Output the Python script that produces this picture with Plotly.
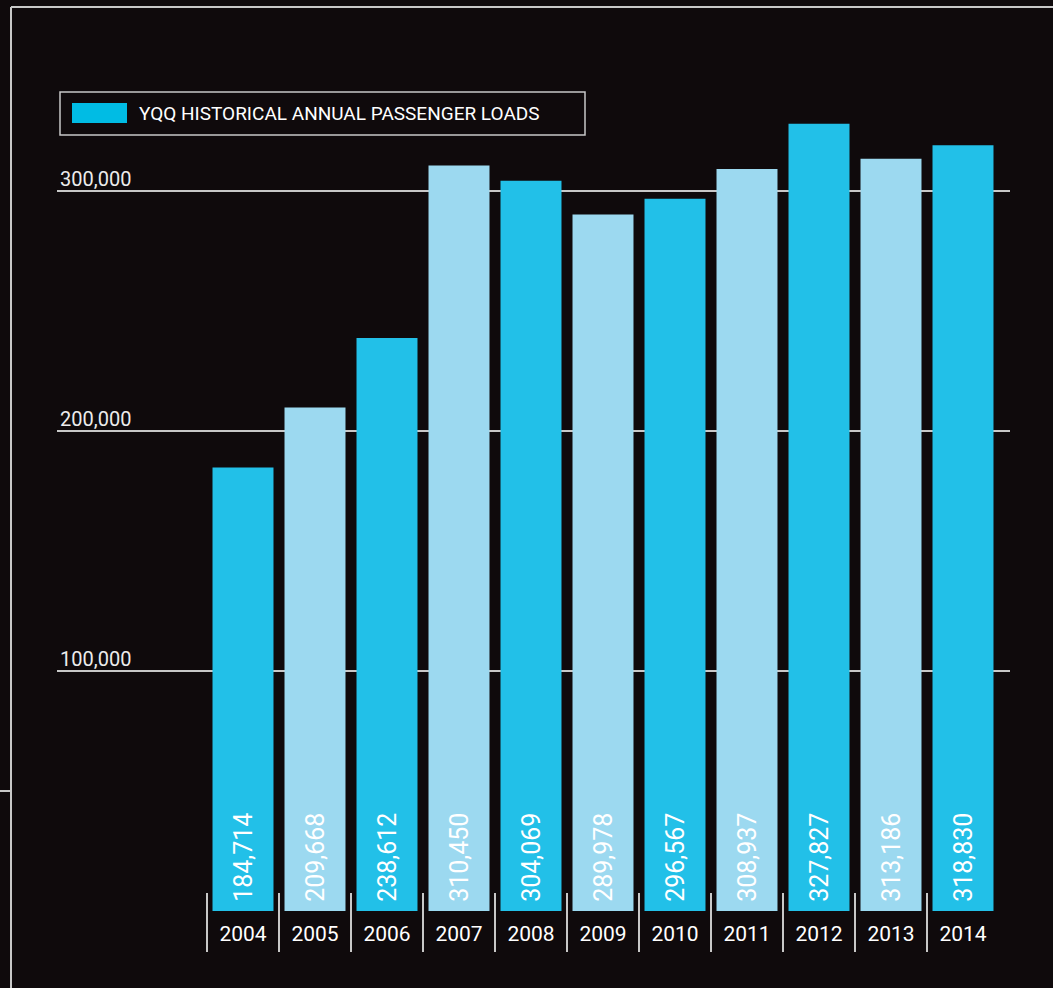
import plotly.graph_objects as go

years = ["2004", "2005", "2006", "2007", "2008", "2009", "2010", "2011", "2012", "2013", "2014"]
passengers = [184714, 209668, 238612, 310450, 304069, 289978, 296567, 308937, 327827, 313186, 318830]
y_ticks = [100000, 200000, 300000]
y_tick_labels = ["100,000", "200,000", "300,000"]
legend_label = "YQQ HISTORICAL ANNUAL PASSENGER LOADS"

W, H = 1053, 988
ML, MR, MT, MB = 57, 43, 20, 77
PW, PH = W - ML - MR, H - MT - MB

BG = "#0f0a0c"
DARK = "#22c0e8"
LIGHT = "#9cd9f0"
SWATCH = "#00bce4"
LINE = "#c8c8c8"
FONT = "Roboto"
CAT_SPACING = 72.0
FIRST_CENTER = 243.0


def px(x):
    return (x - ML) / PW


def py(y):
    return (H - MB - y) / PH


colors = [DARK if i % 2 == 0 else LIGHT for i in range(len(years))]

fig = go.Figure()
fig.add_trace(go.Bar(
    x=years,
    y=passengers,
    marker=dict(color=colors, line=dict(width=0)),
    texttemplate="\u00a0%{y:,}",
    textposition="inside",
    insidetextanchor="start",
    textangle=-90,
    textfont=dict(family=FONT, size=25, color="white"),
    showlegend=False,
    hoverinfo="x+y",
))

shapes = []
# category separators
for i in range(len(years)):
    shapes.append(dict(type="line", xref="x", yref="paper",
                       x0=i - 0.5, x1=i - 0.5, y0=py(893), y1=py(952),
                       line=dict(color=LINE, width=2)))
# decorative frame
shapes.append(dict(type="line", xref="paper", yref="paper",
                   x0=px(11), x1=px(W), y0=py(7), y1=py(7), line=dict(color=LINE, width=2)))
shapes.append(dict(type="line", xref="paper", yref="paper",
                   x0=px(11), x1=px(11), y0=py(7), y1=py(H), line=dict(color=LINE, width=2)))
shapes.append(dict(type="line", xref="paper", yref="paper",
                   x0=px(0), x1=px(11), y0=py(791), y1=py(791), line=dict(color=LINE, width=2)))
# legend box
shapes.append(dict(type="rect", xref="paper", yref="paper",
                   x0=px(60), x1=px(585), y0=py(135), y1=py(92),
                   line=dict(color=LINE, width=1.5), fillcolor=BG, layer="above"))
shapes.append(dict(type="rect", xref="paper", yref="paper",
                   x0=px(72), x1=px(127), y0=py(123), y1=py(103),
                   line=dict(width=0), fillcolor=SWATCH, layer="above"))

annotations = [dict(
    text=legend_label, xref="paper", yref="paper", x=px(137), y=py(114),
    xanchor="left", yanchor="middle", showarrow=False,
    font=dict(family=FONT, size=19, color="white"),
)]

fig.update_layout(
    width=W, height=H,
    margin=dict(l=ML, r=MR, t=MT, b=MB, pad=0),
    paper_bgcolor=BG, plot_bgcolor=BG,
    bargap=0.153,
    shapes=shapes,
    annotations=annotations,
    xaxis=dict(
        type="category",
        range=[-(FIRST_CENTER - ML) / CAT_SPACING, (W - MR - FIRST_CENTER) / CAT_SPACING],
        showgrid=False, zeroline=False, showline=False, ticks="",
        tickfont=dict(family=FONT, size=21, color="white"),
        ticklabelstandoff=8,
        fixedrange=True,
    ),
    yaxis=dict(
        range=[0, 371000],
        tickvals=y_ticks, ticktext=y_tick_labels,
        ticklabelposition="inside top",
        ticklabelshift=2,
        tickfont=dict(family=FONT, size=20, color="#ececec"),
        showgrid=True, gridcolor=LINE, gridwidth=2,
        zeroline=False, showline=False, ticks="",
        fixedrange=True,
    ),
)

fig.write_html(
    "out.html",
    config={"displayModeBar": False},
    post_script="document.body.style.margin='0';document.body.style.overflow='hidden';",
)
